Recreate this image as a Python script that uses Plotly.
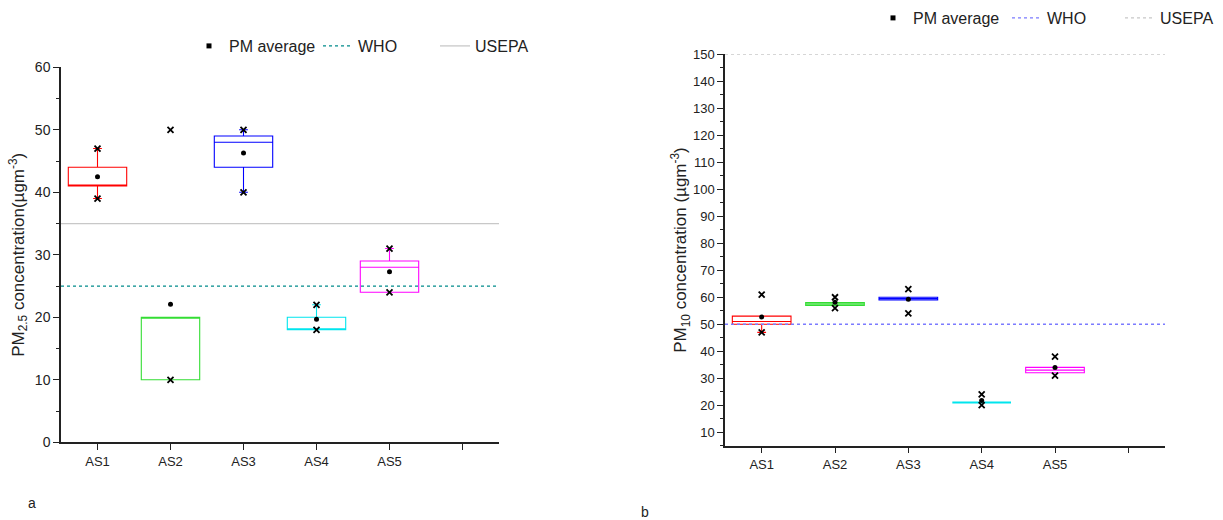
import plotly.graph_objects as go

# ---------------- data ----------------
sites = ["AS1", "AS2", "AS3", "AS4", "AS5"]
site_pos = [1, 2, 3, 4, 5]
extra_tick = [6]
colors = ["#ff0000", "#33dd33", "#0000ff", "#00e5ee", "#ff00ff"]

# PM2.5 (panel a)
pm25_q1 = [41, 10, 44, 18, 24]
pm25_median = [41, 20, 48, 18, 28]
pm25_q3 = [44, 20, 49, 20, 29]
pm25_low = [39, 10, 40, 18, 24]
pm25_high = [47, 20, 50, 22, 31]
pm25_mean = [42.5, 22.1, 46.3, 19.7, 27.3]
pm25_max = [47, 50, 50, 22, 31]
pm25_min = [39, 10, 40, 18, 24]
who_pm25 = 25
usepa_pm25 = 35

# PM10 (panel b)
pm10_q1 = [50, 57, 59, 21, 32]
pm10_median = [51, 57.5, 59.5, 21, 33]
pm10_q3 = [53, 58, 60, 21, 34]
pm10_low = [47, 57, 59, 21, 32]
pm10_high = [53, 58, 60, 21, 34]
pm10_mean = [52.7, 58.1, 59.3, 21.7, 34.0]
pm10_max = [61, 60, 63, 24, 38]
pm10_min = [47, 56, 54, 20, 31]
who_pm10 = 50
usepa_pm10 = 150

X_RANGE = [0.5, 6.5]
Y_RANGE_A = [0, 60]
Y_RANGE_B = [5, 150]

FONT = "Liberation Sans, Arial, sans-serif"
W, H = 1223, 520

fig = go.Figure()


def add_panel(xa, ya, leg, q1, med, q3, lo, hi, mean, mx, mn, who, usepa,
              who_color, usepa_color, usepa_dash, widths):
    for i in range(len(sites)):
        degenerate = q1[i] == q3[i]
        fig.add_trace(go.Box(
            x=[site_pos[i]], q1=[q1[i]], median=[med[i]], q3=[q3[i]],
            lowerfence=[lo[i]], upperfence=[hi[i]],
            width=0.8, whiskerwidth=0.15,
            line=dict(color=colors[i], width=2.2 if degenerate else 1.1),
            fillcolor="rgba(0,0,0,0)", boxpoints=False,
            showlegend=False, xaxis=xa, yaxis=ya, hoverinfo="skip"))
    fig.add_trace(go.Scatter(
        x=site_pos + site_pos, y=mx + mn, mode="markers",
        marker=dict(symbol="x-thin", size=6, line=dict(color="black", width=1.8)),
        showlegend=False, xaxis=xa, yaxis=ya, cliponaxis=False))
    fig.add_trace(go.Scatter(
        x=site_pos, y=mean, mode="markers",
        marker=dict(symbol="circle", size=5, color="black"),
        showlegend=False, xaxis=xa, yaxis=ya, cliponaxis=False))
    # legend entries + reference lines
    fig.add_trace(go.Scatter(
        x=[None], y=[None], mode="markers", name="PM average",
        marker=dict(symbol="square", size=5, color="black"),
        legend=leg, legendwidth=widths[0], xaxis=xa, yaxis=ya))
    fig.add_trace(go.Scatter(
        x=X_RANGE, y=[who, who], mode="lines", name="WHO",
        line=dict(color=who_color, width=1.3, dash="dot"),
        legend=leg, legendwidth=widths[1], xaxis=xa, yaxis=ya, cliponaxis=False))
    fig.add_trace(go.Scatter(
        x=X_RANGE, y=[usepa, usepa], mode="lines", name="USEPA",
        line=dict(color=usepa_color, width=1.3, dash=usepa_dash),
        legend=leg, xaxis=xa, yaxis=ya, cliponaxis=False))


add_panel("x", "y", "legend", pm25_q1, pm25_median, pm25_q3, pm25_low, pm25_high,
          pm25_mean, pm25_max, pm25_min, who_pm25, usepa_pm25,
          "#008b8b", "#c8c8c8", "solid", [84, 72])
add_panel("x2", "y2", "legend2", pm10_q1, pm10_median, pm10_q3, pm10_low, pm10_high,
          pm10_mean, pm10_max, pm10_min, who_pm10, usepa_pm10,
          "#7b7bff", "#c8c8c8", "dot", [89, 68])

xaxis_common = dict(
    range=X_RANGE, tickmode="array", tickvals=site_pos + extra_tick,
    ticktext=sites + [""], ticks="outside", ticklen=6, tickwidth=1.3,
    tickcolor="#222", showline=True, linecolor="#222", linewidth=1.5,
    showgrid=False, zeroline=False, automargin=False,
    tickfont=dict(family=FONT, size=13, color="#222"))
yaxis_common = dict(
    ticks="outside", ticklen=6, tickwidth=1.3, tickcolor="#222",
    showline=True, linecolor="#222", linewidth=1.5, showgrid=False,
    zeroline=False, automargin=False,
    minor=dict(ticks="outside", ticklen=3, tickwidth=1.2, tickcolor="#222", dtick=5),
    tickfont=dict(family=FONT, size=14, color="#222"))

fig.update_layout(
    width=W, height=H, template="none",
    paper_bgcolor="white", plot_bgcolor="white",
    margin=dict(l=0, r=0, t=0, b=0),
    font=dict(family=FONT, color="#222"),
    xaxis=dict(domain=[61 / W, 499 / W], anchor="y", **xaxis_common),
    yaxis=dict(domain=[1 - 442.3 / H, 1 - 67.3 / H], anchor="x",
               range=Y_RANGE_A, tick0=0, dtick=10,
               title=dict(text="PM<sub>2.5</sub> concentration(µgm<sup>-3</sup>)",
                          font=dict(family=FONT, size=17, color="#222"), standoff=6),
               **yaxis_common),
    xaxis2=dict(domain=[725 / W, 1165 / W], anchor="y2", **xaxis_common),
    yaxis2=dict(domain=[1 - 445.7 / H, 1 - 54.3 / H], anchor="x2",
                range=Y_RANGE_B, tick0=0, dtick=10,
                title=dict(text="PM<sub>10</sub> concentration (µgm<sup>-3</sup>)",
                           font=dict(family=FONT, size=17, color="#222"), standoff=2),
                **{**yaxis_common, "tickfont": dict(family=FONT, size=13, color="#222")}),
    legend=dict(orientation="h", x=189 / W, y=1 - 46 / H, xanchor="left", yanchor="middle",
                font=dict(family=FONT, size=16, color="#222"), bgcolor="rgba(0,0,0,0)",
                borderwidth=0),
    legend2=dict(orientation="h", x=873 / W, y=1 - 18 / H, xanchor="left", yanchor="middle",
                 font=dict(family=FONT, size=16, color="#222"), bgcolor="rgba(0,0,0,0)",
                 borderwidth=0),
    annotations=[
        dict(text="a", x=32 / W, y=1 - 503 / H, xref="paper", yref="paper",
             xanchor="center", yanchor="middle",
             showarrow=False, font=dict(family=FONT, size=14, color="#222")),
        dict(text="b", x=645 / W, y=1 - 512 / H, xref="paper", yref="paper",
             xanchor="center", yanchor="middle",
             showarrow=False, font=dict(family=FONT, size=14, color="#222")),
    ],
)

fig.write_html("out.html", config={"displayModeBar": False},
               post_script="document.body.style.margin='0';document.body.style.overflow='hidden';")
